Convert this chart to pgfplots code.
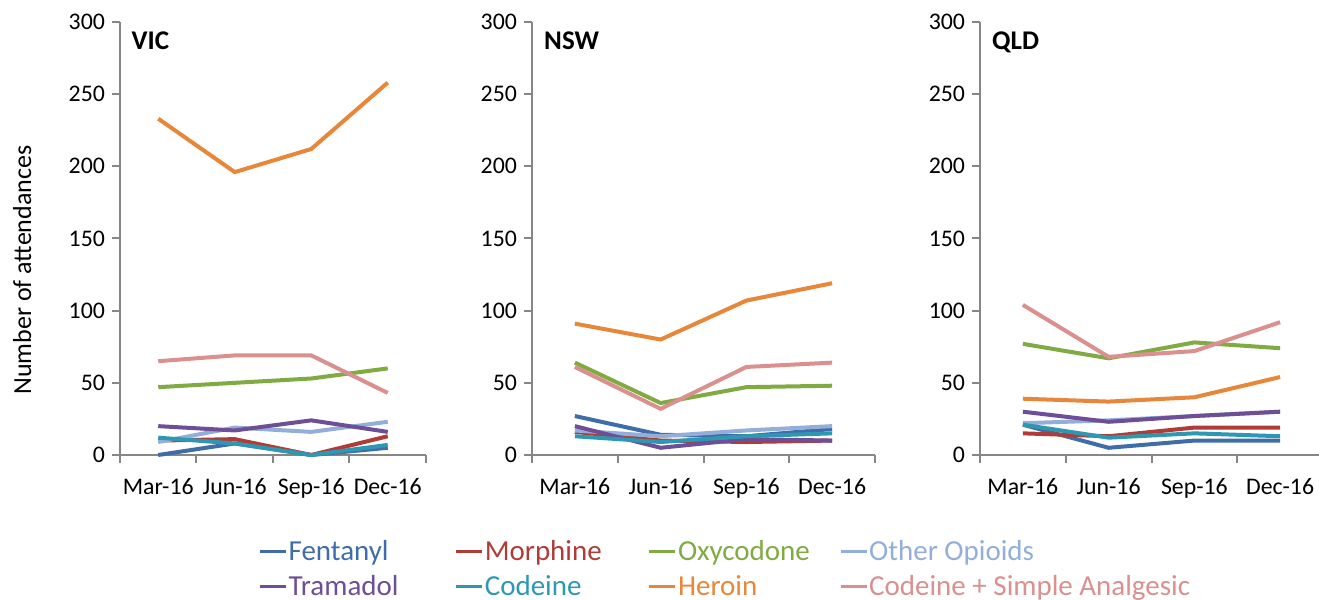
\documentclass[border=0pt]{standalone}
\usepackage{fontspec}
\setmainfont{Carlito}
\usepackage{pgfplots}
\pgfplotsset{compat=1.18}
\definecolor{axisgrey}{HTML}{868686}
\definecolor{cFen}{HTML}{3E6DAA}
\definecolor{cMor}{HTML}{B03C38}
\definecolor{cOxy}{HTML}{80AA42}
\definecolor{cOth}{HTML}{93AFD9}
\definecolor{cTra}{HTML}{6E4E96}
\definecolor{cCod}{HTML}{2E98B2}
\definecolor{cHer}{HTML}{E8873A}
\definecolor{cCSA}{HTML}{D9908F}
\pgfplotsset{
 panel/.style={
  scale only axis, height=216.5pt, ymin=0, ymax=300, xmin=0, xmax=4,
  axis x line*=bottom, axis y line*=left,
  axis line style={draw=axisgrey, line width=1pt, -},
  ytick={0,50,...,300},
  /pgf/number format/assume math mode=true,
  tick label style={font=\fontsize{11.9}{14}\selectfont},
  xtick={0,1,2,3,4}, xticklabels={},
  extra x ticks={0.5,1.5,2.5,3.5},
  extra x tick labels={Mar-16,Jun-16,Sep-16,Dec-16},
  extra x tick style={major tick length=0pt, tick label style={yshift=-8pt}},
  tick align=outside, major tick length=4pt,
  tick style={draw=axisgrey, line width=1pt},
  every axis plot/.append style={line width=2pt, no markers},
  title style={at={(axis description cs:0.015,0.965)}, anchor=north west, font=\fontsize{13.5}{16}\selectfont\bfseries},
  clip=false,
 }
}
\begin{document}
\begin{tikzpicture}
\path[use as bounding box] (0,0) rectangle (659.5pt,300pt);
% VIC
\begin{axis}[panel, width=153pt, at={(60pt,72.5pt)}, anchor=south west,
  title={VIC},
  ylabel={Number of attendances},
  ylabel style={at={(axis description cs:-0.32,0.427)}, anchor=center, font=\fontsize{13}{16}\selectfont},
  legend style={at={(axis description cs:0.451,-0.193)}, anchor=north west, draw=none, fill=none,
    legend columns=4, column sep=0pt, row sep=5pt, font=\fontsize{14.5}{17}\selectfont,
    inner sep=0pt, nodes={inner sep=0.5pt}},
  legend cell align=left,
  legend image code/.code={\draw[#1,line width=1.6pt] (0pt,0pt) -- (13pt,0pt);},
]
\addplot[cFen] coordinates {(0.5,0) (1.5,8) (2.5,0) (3.5,5)};
\addlegendentry{\makebox[82.5pt][l]{\textcolor{cFen}{Fentanyl}}}
\addplot[cMor] coordinates {(0.5,10) (1.5,11) (2.5,0) (3.5,13)};
\addlegendentry{\makebox[81pt][l]{\textcolor{cMor}{Morphine}}}
\addplot[cOxy] coordinates {(0.5,47) (1.5,50) (2.5,53) (3.5,60)};
\addlegendentry{\makebox[80pt][l]{\textcolor{cOxy}{Oxycodone}}}
\addplot[cOth] coordinates {(0.5,9) (1.5,19) (2.5,16) (3.5,23)};
\addlegendentry{\textcolor{cOth}{Other Opioids}}
\addplot[cTra] coordinates {(0.5,20) (1.5,17) (2.5,24) (3.5,16)};
\addlegendentry{\makebox[82.5pt][l]{\textcolor{cTra}{Tramadol}}}
\addplot[cCod] coordinates {(0.5,12) (1.5,8) (2.5,0) (3.5,7)};
\addlegendentry{\makebox[81pt][l]{\textcolor{cCod}{Codeine}}}
\addplot[cHer] coordinates {(0.5,233) (1.5,196) (2.5,212) (3.5,258)};
\addlegendentry{\makebox[80pt][l]{\textcolor{cHer}{Heroin}}}
\addplot[cCSA] coordinates {(0.5,65) (1.5,69) (2.5,69) (3.5,43)};
\addlegendentry{\textcolor{cCSA}{Codeine + Simple Analgesic}}
\end{axis}
% NSW
\begin{axis}[panel, width=171.5pt, at={(266pt,72.5pt)}, anchor=south west, title={NSW}]
\addplot[cFen] coordinates {(0.5,27) (1.5,14) (2.5,13) (3.5,18)};
\addplot[cMor] coordinates {(0.5,16) (1.5,10) (2.5,9) (3.5,10)};
\addplot[cOxy] coordinates {(0.5,64) (1.5,36) (2.5,47) (3.5,48)};
\addplot[cOth] coordinates {(0.5,17) (1.5,13) (2.5,17) (3.5,20)};
\addplot[cTra] coordinates {(0.5,20) (1.5,5) (2.5,11) (3.5,10)};
\addplot[cCod] coordinates {(0.5,13) (1.5,9) (2.5,13) (3.5,15)};
\addplot[cHer] coordinates {(0.5,91) (1.5,80) (2.5,107) (3.5,119)};
\addplot[cCSA] coordinates {(0.5,61) (1.5,32) (2.5,61) (3.5,64)};
\end{axis}
% QLD
\begin{axis}[panel, width=171.5pt, at={(490pt,72.5pt)}, anchor=south west, title={QLD}]
\addplot[cFen] coordinates {(0.5,21) (1.5,5) (2.5,10) (3.5,10)};
\addplot[cMor] coordinates {(0.5,15) (1.5,13) (2.5,19) (3.5,19)};
\addplot[cOxy] coordinates {(0.5,77) (1.5,67) (2.5,78) (3.5,74)};
\addplot[cOth] coordinates {(0.5,22) (1.5,24) (2.5,27) (3.5,30)};
\addplot[cTra] coordinates {(0.5,30) (1.5,23) (2.5,27) (3.5,30)};
\addplot[cCod] coordinates {(0.5,21) (1.5,12) (2.5,15) (3.5,13)};
\addplot[cHer] coordinates {(0.5,39) (1.5,37) (2.5,40) (3.5,54)};
\addplot[cCSA] coordinates {(0.5,104) (1.5,68) (2.5,72) (3.5,92)};
\end{axis}
\end{tikzpicture}
\end{document}
